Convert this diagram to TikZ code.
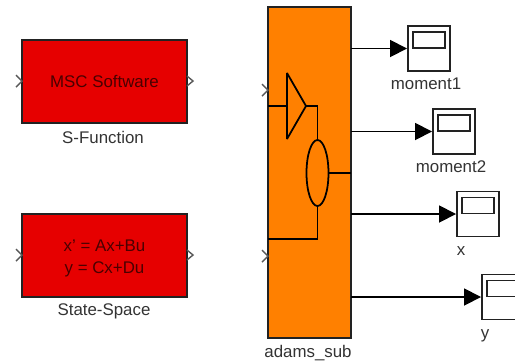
\documentclass[tikz,border=0pt]{standalone}
\usepackage{fontspec}
\setmainfont{Liberation Sans}
\usetikzlibrary{arrows.meta,shapes.geometric}
\definecolor{blockred}{HTML}{E60000}
\definecolor{blockorange}{HTML}{FF8000}
\definecolor{wiregray}{HTML}{222222}
\definecolor{blocktext}{HTML}{4A0000}
\tikzset{
  sysblock/.style={draw=wiregray,line width=1.1pt,inner sep=0pt,minimum width=3.3cm,minimum height=1.66cm,fill=blockred},
  blocktext/.style={inner sep=0pt,align=center,text=blocktext,font=\fontsize{9.6}{12.5}\selectfont},
  scopebox/.style={draw=wiregray,line width=1.1pt,fill=white,minimum width=0.84cm,minimum height=0.9cm,inner sep=0pt},
  scopescreen/.style={draw=wiregray,line width=1.1pt,minimum width=0.64cm,minimum height=0.32cm,inner sep=0pt},
  blocklabel/.style={text=black!80,font=\fontsize{9.6}{12}\selectfont,inner sep=0pt},
  wire/.style={line width=1pt,draw=black},
  signal/.style={wire,-{Triangle[length=0.34cm,width=0.34cm]}},
  port/.style={line width=0.8pt,draw=black!65}
}
\begin{document}
\begin{tikzpicture}[x=0.02cm,y=-0.02cm]

\clip (0,0) rectangle (515,360);

\node[sysblock] (sfun) at (104.5,81.5) {};
\node[blocktext] (sfuntext) at (104.5,81.5) {MSC Software};
\node[sysblock] (statespace) at (104.5,255.5) {};
\node[blocktext] (statespacetext) at (104.5,258) {x' = Ax+Bu\\y = Cx+Du};
\node[sysblock,fill=blockorange,minimum width=1.66cm,minimum height=6.62cm] (adams) at (309.5,172.5) {};

\node[blocklabel] (sfunlabel) at (103,137) {S-Function};
\node[blocklabel] (statespacelabel) at (104,311) {State-Space};
\node[blocklabel] (adamslabel) at (308,353) {adams\_sub};

% ports
\draw[port] (16,75) -- (22,81) -- (16,87);
\draw[port] (187,76) -- (193,81) -- (187,86);
\draw[port] (16,249) -- (22,255) -- (16,261);
\draw[port] (187,250) -- (193,255) -- (187,260);
\draw[port] (262,84) -- (268,90) -- (262,96);
\draw[port] (262,250) -- (268,256) -- (262,262);

% inside of the subsystem
\coordinate (gainin) at (287,106);
\coordinate (gainout) at (306,106);
\draw[wire,line join=bevel] (287,73) -- (gainout) -- (287,139) -- cycle;
\node[ellipse,draw=black,line width=1pt,minimum width=0.44cm,minimum height=1.32cm,inner sep=0pt] (product) at (317.5,173) {};
\coordinate (adamsin1) at (268,106);
\coordinate (adamsin2) at (268,239);
\coordinate (adamsout) at (351,173);
\draw[wire] (adamsin1) -- (gainin);
\draw[wire] (gainout) -| (product.north);
\draw[wire] (product.south) |- (adamsin2);
\draw[wire] (product.east) -- (adamsout);

% scopes
\node[scopebox] (moment1) at (429,48.5) {};
\node[scopescreen] (screen1) at (429,40) {};
\node[blocklabel] (moment1label) at (426,84) {moment1};

\node[scopebox] (moment2) at (454,131.5) {};
\node[scopescreen] (screen2) at (454,123) {};
\node[blocklabel] (moment2label) at (451,167) {moment2};

\node[scopebox] (scopex) at (478,214) {};
\node[scopescreen] (screenx) at (478,205.5) {};
\node[blocklabel] (xlabel) at (461,251) {x};

\node[scopebox] (scopey) at (503,297) {};
\node[scopescreen] (screeny) at (503,288.5) {};
\node[blocklabel] (ylabel) at (485,336) {y};

% outputs
\coordinate (out1) at (351,48.5);
\coordinate (out2) at (351,131.5);
\coordinate (out3) at (351,214);
\coordinate (out4) at (351,297);
\draw[signal] (out1) -- (moment1.west);
\draw[signal] (out2) -- (moment2.west);
\draw[signal] (out3) -- (scopex.west);
\draw[signal] (out4) -- (scopey.west);

\end{tikzpicture}
\end{document}
